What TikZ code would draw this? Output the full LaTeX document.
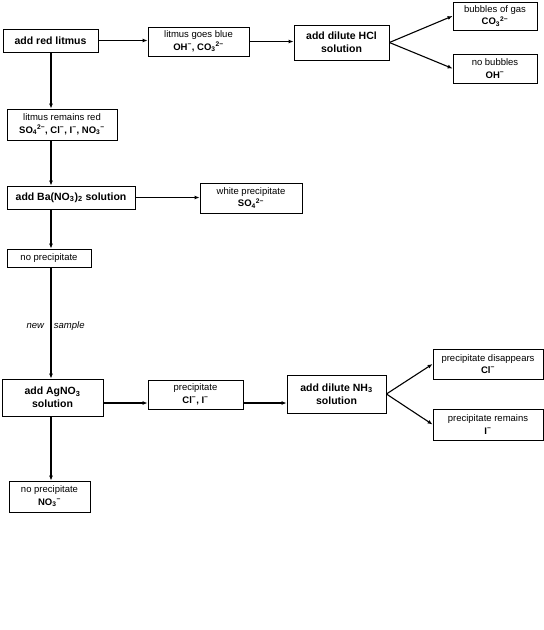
\documentclass[tikz,border=0pt]{standalone}
\usepackage{fontspec}
\setmainfont{Liberation Sans}
\usetikzlibrary{arrows.meta,positioning}
\definecolor{flowInk}{HTML}{000000}
\newcommand{\chemsub}[1]{\textsubscript{#1}}
\newcommand{\chemsup}[1]{\textsuperscript{#1}}
\tikzset{
  flowbox/.style={draw=flowInk, fill=white, line width=0.8pt, inner sep=1pt, align=center,
                  font=\fontsize{9.5}{12.5}\selectfont},
  flowstep/.style={flowbox, font=\fontsize{10.5}{13}\selectfont\bfseries},
  flowarrow/.style={-{Latex[length=5pt,width=4pt]}, line width=1.1pt, draw=flowInk},
  flowdown/.style={flowarrow, line width=1.7pt}
}

\begin{document}
\begin{tikzpicture}[x=1pt, y=-1pt]

\useasboundingbox (0,0) rectangle (544,630);
\coordinate (spine) at (51,0);

% alkaline branch
\node[flowstep, minimum width=95pt, minimum height=23pt] (redlit) at (50.5,40.5) {add red litmus};
\node[flowbox, minimum width=101pt, minimum height=29pt] (blue) at (198.5,41.5)
  {litmus goes blue\\ \textbf{OH\chemsup{−}, CO\chemsub{3}\chemsup{2−}}};
\node[flowstep, minimum width=95pt, minimum height=35pt] (hcl) at (341.5,42.5) {add dilute HCl\\ solution};
\node[flowbox, minimum width=84pt, minimum height=28pt] (gas) at (495,16)
  {bubbles of gas\\ \textbf{CO\chemsub{3}\chemsup{2−}}};
\node[flowbox, minimum width=84pt, minimum height=29pt] (nobub) at (495,68.5)
  {no bubbles\\ \textbf{OH\chemsup{−}}};

% acid branch
\node[flowbox, minimum width=110pt, minimum height=31pt] (remred) at (62,124.5)
  {litmus remains red\\ \textbf{SO\chemsub{4}\chemsup{2−}, Cl\chemsup{−}, I\chemsup{−}, NO\chemsub{3}\chemsup{−}}};
\node[flowstep, minimum width=128pt, minimum height=23pt] (ba) at (71,197.5) {add Ba(NO\chemsub{3})\chemsub{2} solution};
\node[flowbox, minimum width=102pt, minimum height=30pt] (white) at (251,198)
  {white precipitate\\ \textbf{SO\chemsub{4}\chemsup{2−}}};
\node[flowbox, minimum width=84pt, minimum height=18pt] (noppt) at (49,258) {no precipitate};

\node[flowstep, minimum width=101pt, minimum height=37pt] (ag) at (52.5,397.5) {add AgNO\chemsub{3}\\ solution};
\node[flowbox, minimum width=95pt, minimum height=29pt] (pcli) at (195.5,394.5)
  {precipitate\\ \textbf{Cl\chemsup{−}, I\chemsup{−}}};
\node[flowstep, minimum width=99pt, minimum height=38pt] (nh3) at (336.5,394) {add dilute NH\chemsub{3}\\ solution};
\node[flowbox, minimum width=110pt, minimum height=30pt] (disap) at (488,364)
  {precipitate disappears\\ \textbf{Cl\chemsup{−}}};
\node[flowbox, minimum width=110pt, minimum height=31pt] (stays) at (488,424.5)
  {precipitate remains\\ \textbf{I\chemsup{−}}};
\node[flowbox, minimum width=81pt, minimum height=31pt] (nono3) at (49.5,496.5)
  {no precipitate\\ \textbf{NO\chemsub{3}\chemsup{−}}};
\coordinate (agrow) at (0,403);

\draw[flowarrow] (redlit.east) -- (redlit.east -| blue.west);
\draw[flowarrow] (blue.east) -- (blue.east -| hcl.west);
\draw[flowarrow] (hcl.east) -- (gas.west);
\draw[flowarrow] (hcl.east) -- (nobub.west);

\draw[flowdown] (spine |- redlit.south) -- (spine |- remred.north);
\draw[flowdown] (spine |- remred.south) -- (spine |- ba.north);
\draw[flowarrow] (ba.east) -- (ba.east -| white.west);
\draw[flowarrow] (spine |- ba.south) -- (spine |- noppt.north);
\draw[flowarrow] (spine |- noppt.south) -- (spine |- ag.north)
  node[pos=0.53, anchor=west, inner sep=0pt, xshift=-25pt, font=\fontsize{9.5}{11}\selectfont\itshape] (newsmp)
  {new\hspace{10pt}sample};

\draw[flowarrow] (ag.east |- agrow) -- (pcli.west |- agrow);
\draw[flowarrow] (pcli.east |- agrow) -- (nh3.west |- agrow);
\draw[flowarrow] (nh3.east) -- (disap.west);
\draw[flowarrow] (nh3.east) -- (stays.west);
\draw[flowdown] (spine |- ag.south) -- (spine |- nono3.north);

\end{tikzpicture}
\end{document}
